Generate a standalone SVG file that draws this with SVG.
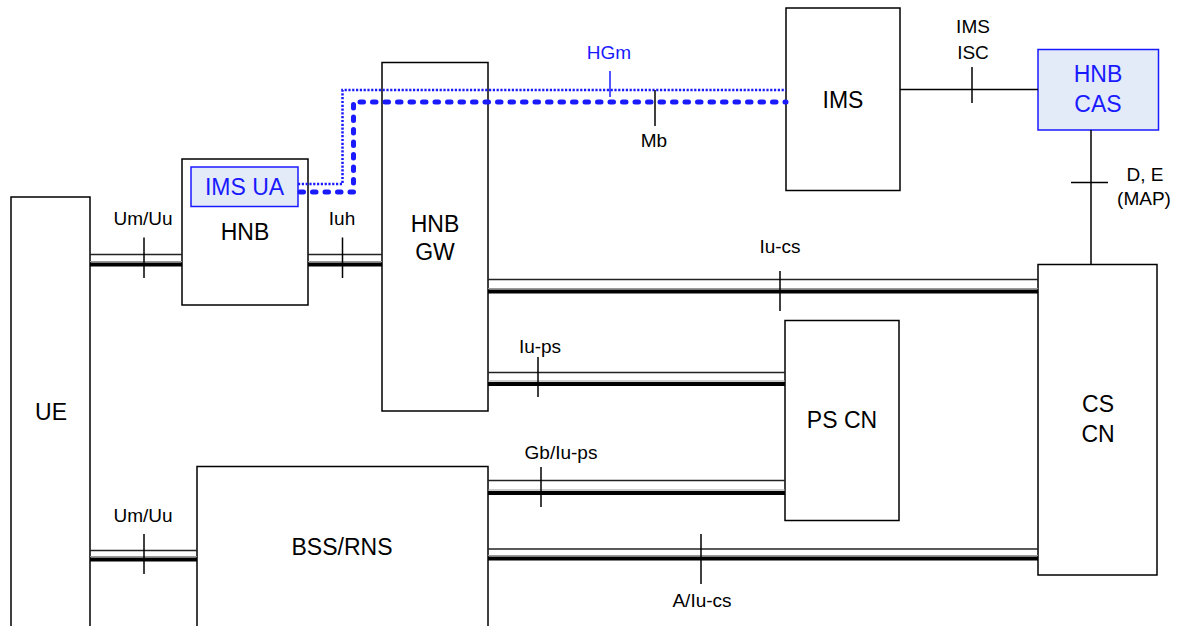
<svg xmlns="http://www.w3.org/2000/svg" width="1177" height="626" viewBox="0 0 1177 626">
<style>
.box{fill:#fff;stroke:#000;stroke-width:1.5}
.bbox{fill:#e3eaf8;stroke:#1a1aff;stroke-width:1.5}
.nl{font-family:"Liberation Sans",Arial,sans-serif;font-size:23px;fill:#000;text-anchor:middle}
.bl{font-family:"Liberation Sans",Arial,sans-serif;font-size:23px;fill:#1a1aff;text-anchor:middle}
.ll{font-family:"Liberation Sans",Arial,sans-serif;font-size:19px;fill:#000;text-anchor:middle}
.llb{font-family:"Liberation Sans",Arial,sans-serif;font-size:19px;fill:#1a1aff;text-anchor:middle}
.thin{stroke:#222;stroke-width:1.3;fill:none}
.gray{stroke:#999;stroke-width:1;fill:none}
.thick{stroke:#000;stroke-width:4;fill:none}
.tick{stroke:#000;stroke-width:1.5;fill:none}
.line{stroke:#000;stroke-width:1.5;fill:none}
.dot{stroke:#1a1aff;stroke-width:2.5;fill:none;stroke-dasharray:2.2 1.6}
.dash{stroke:#1a1aff;stroke-width:5;fill:none;stroke-dasharray:3.5 9;stroke-linecap:round;stroke-linejoin:round}
</style>
<rect width="1177" height="626" fill="#fff"/>
<g id="UE">
  <rect class="box" x="11" y="197" width="79" height="440"/>
  <text class="nl" x="51" y="420">UE</text>
</g>
<g id="HNB">
  <rect class="box" x="182" y="159" width="126" height="146"/>
  <text class="nl" x="245" y="240">HNB</text>
</g>
<g id="IMS_UA">
  <rect class="bbox" x="191" y="167" width="107" height="39.5"/>
  <text class="bl" x="244.5" y="195">IMS UA</text>
</g>
<g id="HNB_GW">
  <rect class="box" x="382" y="62.5" width="106" height="348.5"/>
  <text class="nl" x="435" y="232">HNB</text>
  <text class="nl" x="435" y="260">GW</text>
</g>
<g id="IMS">
  <rect class="box" x="786" y="8" width="114" height="182.5"/>
  <text class="nl" x="843" y="108">IMS</text>
</g>
<g id="HNB_CAS">
  <rect class="bbox" x="1038" y="49.5" width="120.5" height="80.5"/>
  <text class="bl" x="1098" y="82">HNB</text>
  <text class="bl" x="1098" y="112">CAS</text>
</g>
<g id="PS_CN">
  <rect class="box" x="785" y="320.5" width="114" height="200"/>
  <text class="nl" x="842" y="428">PS CN</text>
</g>
<g id="CS_CN">
  <rect class="box" x="1038" y="264.5" width="119" height="310.5"/>
  <text class="nl" x="1098" y="412">CS</text>
  <text class="nl" x="1098" y="442">CN</text>
</g>
<g id="BSS_RNS">
  <rect class="box" x="197" y="466.5" width="291" height="170"/>
  <text class="nl" x="342" y="555">BSS/RNS</text>
</g>
<g id="connectors">
  <!-- Um/Uu top -->
  <line class="thin" x1="90" y1="254.5" x2="182" y2="254.5"/>
  <line class="gray" x1="90" y1="261.5" x2="182" y2="261.5"/>
  <line class="thick" x1="90" y1="264.5" x2="182" y2="264.5"/>
  <line class="tick" x1="144" y1="237.5" x2="144" y2="278"/>
  <!-- Iuh -->
  <line class="thin" x1="308" y1="254.5" x2="382" y2="254.5"/>
  <line class="gray" x1="308" y1="261.5" x2="382" y2="261.5"/>
  <line class="thick" x1="308" y1="264.5" x2="382" y2="264.5"/>
  <line class="tick" x1="342.5" y1="237.5" x2="342.5" y2="278"/>
  <!-- Iu-cs -->
  <line class="thin" x1="488" y1="279.5" x2="1038" y2="279.5"/>
  <line class="gray" x1="488" y1="288.5" x2="1038" y2="288.5"/>
  <line class="thick" x1="488" y1="291.5" x2="1038" y2="291.5"/>
  <line class="tick" x1="780" y1="271" x2="780" y2="311"/>
  <!-- Iu-ps -->
  <line class="thin" x1="488" y1="372.5" x2="785" y2="372.5"/>
  <line class="gray" x1="488" y1="381" x2="785" y2="381"/>
  <line class="thick" x1="488" y1="384" x2="785" y2="384"/>
  <line class="tick" x1="538" y1="357" x2="538" y2="397"/>
  <!-- Gb/Iu-ps -->
  <line class="thin" x1="488" y1="480.5" x2="785" y2="480.5"/>
  <line class="gray" x1="488" y1="490" x2="785" y2="490"/>
  <line class="thick" x1="488" y1="493" x2="785" y2="493"/>
  <line class="tick" x1="541" y1="467" x2="541" y2="507"/>
  <!-- Um/Uu bottom -->
  <line class="thin" x1="90" y1="550.5" x2="197" y2="550.5"/>
  <line class="gray" x1="90" y1="556.5" x2="197" y2="556.5"/>
  <line class="thick" x1="90" y1="559.5" x2="197" y2="559.5"/>
  <line class="tick" x1="144" y1="534" x2="144" y2="574"/>
  <!-- A/Iu-cs -->
  <line class="thin" x1="488" y1="549" x2="1038" y2="549"/>
  <line class="gray" x1="488" y1="555.5" x2="1038" y2="555.5"/>
  <line class="thick" x1="488" y1="558.5" x2="1038" y2="558.5"/>
  <line class="tick" x1="701" y1="534" x2="701" y2="584"/>
  <!-- IMS ISC -->
  <line class="line" x1="900" y1="89.5" x2="1038" y2="89.5"/>
  <line class="tick" x1="972" y1="67" x2="972" y2="103"/>
  <!-- D, E (MAP) -->
  <line class="line" x1="1091" y1="130" x2="1091" y2="264"/>
  <line class="tick" x1="1071" y1="182.5" x2="1108" y2="182.5"/>
  <!-- HGm (dotted) -->
  <polyline class="dot" points="298,184 342.5,184 342.5,90 786,90"/>
  <line x1="610" y1="71" x2="610" y2="97" stroke="#1a1aff" stroke-width="1.5"/>
  <!-- Mb (dashed) -->
  <polyline class="dash" points="300,192 353.5,192 353.5,102 786,102"/>
  <line class="tick" x1="655" y1="90" x2="655" y2="126"/>
  <!-- labels -->
  <text class="ll" x="143" y="225">Um/Uu</text>
  <text class="ll" x="342" y="225">Iuh</text>
  <text class="ll" x="780" y="253">Iu-cs</text>
  <text class="ll" x="540" y="353">Iu-ps</text>
  <text class="ll" x="561" y="459">Gb/Iu-ps</text>
  <text class="ll" x="143" y="522">Um/Uu</text>
  <text class="ll" x="702" y="607">A/Iu-cs</text>
  <text class="ll" x="973" y="33">IMS</text>
  <text class="ll" x="973" y="59">ISC</text>
  <text class="ll" x="1145" y="181">D, E</text>
  <text class="ll" x="1144" y="205">(MAP)</text>
  <text class="llb" x="609" y="59">HGm</text>
  <text class="ll" x="654" y="147">Mb</text>
</g>
</svg>
